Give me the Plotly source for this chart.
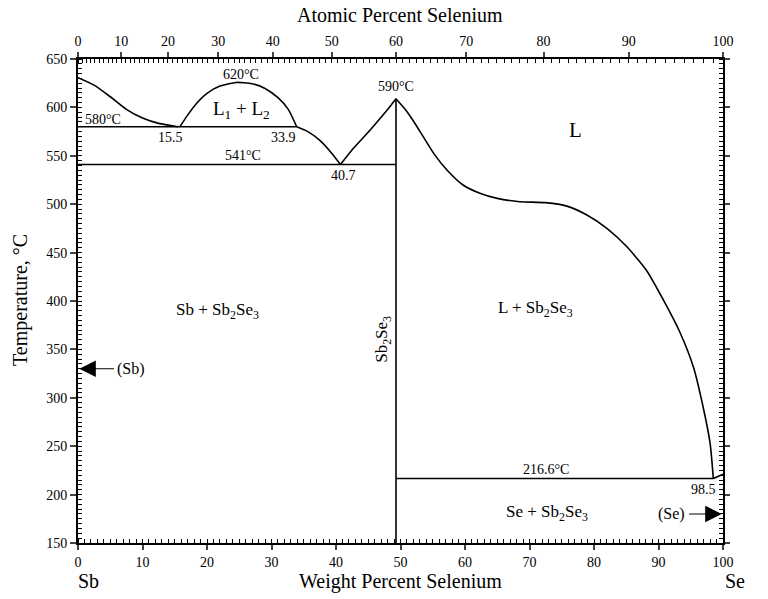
import plotly.graph_objects as go

# ---- data (wt% Se, temperature degC) ----
sb_liq_x = [0.0, 2.5, 5.0, 7.5, 10.0, 12.5, 15.5]
sb_liq_y = [630.755, 623, 611, 598, 589, 583.5, 580]

gap_x = [15.8, 17.0, 18.5, 20.0, 22.0, 24.5, 27.0, 29.0, 31.0, 32.6, 33.9]
gap_y = [580, 592, 605, 614.5, 622, 625.8, 624.5, 619.5, 610, 598, 580]

liq2_x = [33.9, 35.5, 37.5, 39.3, 40.7]
liq2_y = [580, 575.5, 566, 553, 541]

liq3_x = [40.7, 42.7, 45.3, 47.9, 49.3]
liq3_y = [541, 557.7, 576.7, 597, 609]

liq4_x = [49.3, 50.6, 52.0, 53.5, 55.2, 57.2, 59.7, 62.3, 65.0, 68.5, 72.5, 75.8, 78.9,
          82.0, 85.1, 88.2, 91.0, 93.3, 95.4, 96.9, 98.0, 98.5]
liq4_y = [609, 599, 586, 570, 552, 535.3, 519.8, 511.3, 506, 502.6, 501.6, 498, 488.8,
          475, 456, 431, 398, 368, 332, 291, 253, 216.6]

se_x = [98.5, 100]
se_y = [216.6, 221]

compound_x = 49.3
t_monotectic = 580
t_eutectic1 = 541
t_eutectic2 = 216.6
monotectic_end = 33.9
atomic_ticks = list(range(0, 101, 10))
atomic_minor = list(range(0, 101, 1))


def at_to_wt(a):
    se, sb = 78.971, 121.760
    return 100.0 * a * se / (a * se + (100 - a) * sb)


FONT = "Liberation Serif"
line = dict(color="black", width=1.6)

fig = go.Figure()
for xs, ys in [(sb_liq_x, sb_liq_y), (gap_x, gap_y), (liq2_x, liq2_y),
               (liq3_x, liq3_y), (liq4_x, liq4_y), (se_x, se_y)]:
    fig.add_trace(go.Scatter(x=xs, y=ys, mode="lines",
                             line=dict(color="black", width=1.6, shape="spline", smoothing=0.6),
                             hoverinfo="skip", showlegend=False))
fig.add_trace(go.Scatter(x=[0, monotectic_end], y=[t_monotectic, t_monotectic], mode="lines", line=line, showlegend=False))
fig.add_trace(go.Scatter(x=[0, compound_x], y=[t_eutectic1, t_eutectic1], mode="lines", line=line, showlegend=False))
fig.add_trace(go.Scatter(x=[compound_x, 98.5], y=[t_eutectic2, t_eutectic2], mode="lines", line=line, showlegend=False))
fig.add_trace(go.Scatter(x=[compound_x, compound_x], y=[150, 609], mode="lines", line=line, showlegend=False))
fig.add_trace(go.Scatter(x=[0, 100], y=[150, 650], xaxis="x2", yaxis="y2", mode="lines",
                         line=dict(width=0), hoverinfo="skip", showlegend=False))

tick_font = dict(family=FONT, size=14, color="black")
fig.update_layout(
    width=768, height=599,
    margin=dict(l=78, r=45, t=59, b=56),
    paper_bgcolor="white", plot_bgcolor="white",
    font=dict(family=FONT, color="black"),
    xaxis=dict(range=[0, 100], dtick=10, tick0=0, ticks="outside", ticklen=5, tickwidth=1.5,
               showline=True, linecolor="black", linewidth=2, showgrid=False, zeroline=False,
               tickfont=tick_font,
               minor=dict(dtick=1, tick0=0, ticks="inside", ticklen=4, tickwidth=1, tickcolor="black")),
    xaxis2=dict(range=[0, 100], overlaying="x", side="top", tickmode="array",
                tickvals=[at_to_wt(a) for a in atomic_ticks], ticktext=[str(a) for a in atomic_ticks],
                ticks="outside", ticklen=5, tickwidth=1.5, showline=True, linecolor="black", linewidth=2,
                showgrid=False, zeroline=False, tickfont=tick_font,
                minor=dict(tickmode="array", tickvals=[at_to_wt(a) for a in atomic_minor],
                           ticks="inside", ticklen=4, tickwidth=1, tickcolor="black")),
    yaxis=dict(range=[150, 650], dtick=50, tick0=150, ticks="outside", ticklen=6, tickwidth=1.5,
               showline=True, linecolor="black", linewidth=2, showgrid=False, zeroline=False,
               tickfont=tick_font,
               minor=dict(dtick=5, tick0=150, ticks="inside", ticklen=4, tickwidth=1, tickcolor="black")),
    yaxis2=dict(range=[150, 650], overlaying="y", side="right", dtick=50, tick0=150, ticks="outside",
                ticklen=5, tickwidth=1.5, showticklabels=False, showline=True, linecolor="black",
                linewidth=2, showgrid=False, zeroline=False,
                minor=dict(dtick=5, tick0=150, ticks="inside", ticklen=4, tickwidth=1, tickcolor="black")),
)

ann = []
def txt(x, y, s, size=14, **kw):
    d = dict(x=x, y=y, xref="x", yref="y", text=s, showarrow=False,
             font=dict(family=FONT, size=size, color="black"))
    d.update(kw)
    ann.append(d)

txt(3.9, 588, "580°C")
txt(14.3, 569, "15.5")
txt(25.3, 634, "620°C")
txt(25.4, 597, "L<sub>1</sub> + L<sub>2</sub>", size=19)
txt(31.8, 569, "33.9")
txt(25.6, 550, "541°C")
txt(41.2, 530, "40.7")
txt(49.3, 622, "590°C")
txt(77.2, 577, "L", size=21)
txt(21.7, 390, "Sb + Sb<sub>2</sub>Se<sub>3</sub>", size=17)
txt(71.0, 392, "L + Sb<sub>2</sub>Se<sub>3</sub>", size=17)
txt(47.3, 360, "Sb<sub>2</sub>Se<sub>3</sub>", size=17, textangle=-90)
txt(72.6, 226, "216.6°C")
txt(96.9, 205, "98.5")
txt(72.7, 181, "Se + Sb<sub>2</sub>Se<sub>3</sub>", size=17)
txt(94.4, 180, "(Se)", size=16, xanchor="right")
txt(5.8, 330, "(Sb)", size=16, xanchor="left")
txt(-0.4, 624, "<b>630.755°C</b>", size=13, xanchor="right")
txt(100.3, 222, "<b>221°C</b>", size=13, xanchor="left")

ann.append(dict(x=0.2, y=330, xref="x", yref="y", ax=5.8, ay=330, axref="x", ayref="y",
                text="", showarrow=True, arrowhead=2, arrowsize=3, arrowwidth=1.1, arrowcolor="black"))
ann.append(dict(x=99.8, y=180, xref="x", yref="y", ax=94.5, ay=180, axref="x", ayref="y",
                text="", showarrow=True, arrowhead=2, arrowsize=3, arrowwidth=1.1, arrowcolor="black"))

title_font = dict(family=FONT, size=20, color="black")
layout_titles = [
    dict(x=(400 - 78) / 645, y=(599 - 15 - 56) / 484, text="Atomic Percent Selenium"),
    dict(x=(400 - 78) / 645, y=(599 - 581 - 56) / 484, text="Weight Percent Selenium"),
    dict(x=(88 - 78) / 645, y=(599 - 581 - 56) / 484, text="Sb"),
    dict(x=(735 - 78) / 645, y=(599 - 581 - 56) / 484, text="Se"),
]
for t in layout_titles:
    ann.append(dict(x=t["x"], y=t["y"], xref="paper", yref="paper", text=t["text"], showarrow=False,
                    font=title_font, xanchor="center", yanchor="middle"))
ann.append(dict(x=(20 - 78) / 645, y=(599 - 300 - 56) / 484, xref="paper", yref="paper",
                text="Temperature, °C", showarrow=False, font=title_font, textangle=-90,
                xanchor="center", yanchor="middle"))

fig.update_layout(annotations=ann)
fig.write_html("out.html")
